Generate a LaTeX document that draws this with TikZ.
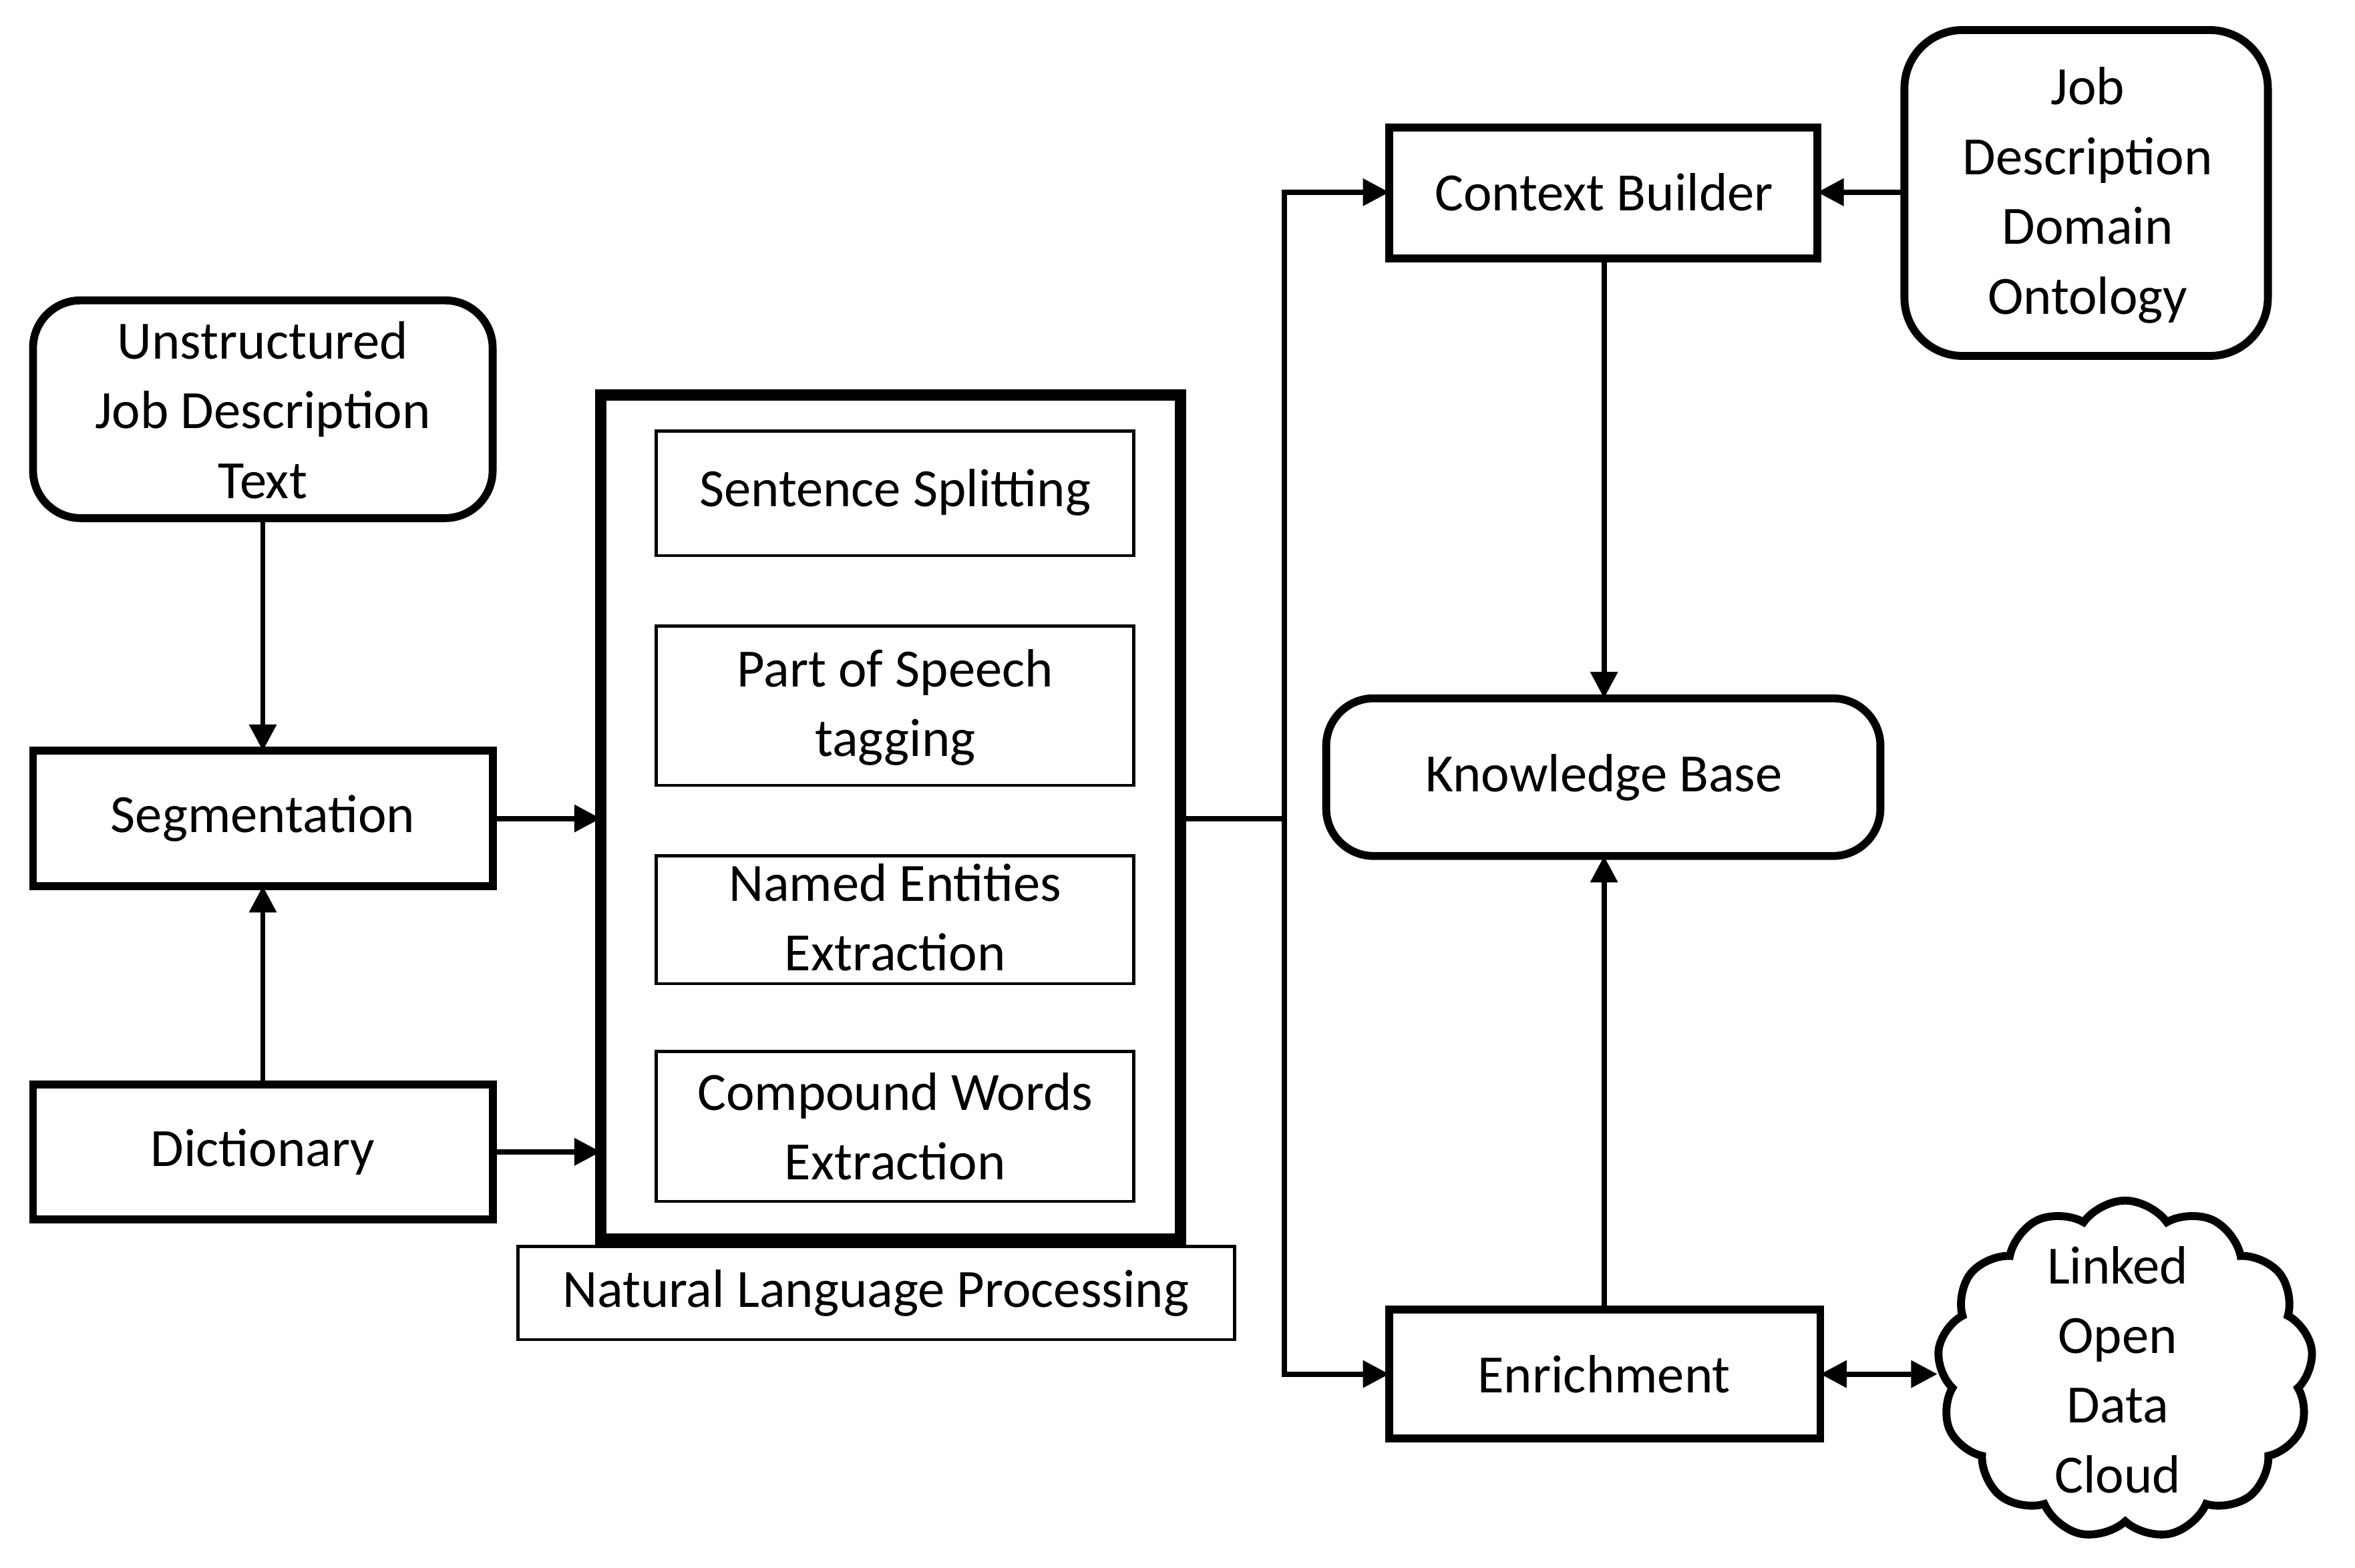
\documentclass[tikz,border=0pt]{standalone}
\usepackage{fontspec}
\setmainfont{Carlito}
\usetikzlibrary{shapes.symbols,arrows.meta}
\begin{document}
\begin{tikzpicture}[x=0.01cm,y=-0.01cm,
  txt/.style={font=\fontsize{10.2}{13.2}\selectfont,align=center,inner sep=0pt},
  thk/.style={draw,line width=1.5pt},
  thn/.style={draw,line width=0.6pt},
  arr/.style={line width=1pt,-{Triangle[length=5pt,width=5pt]}},
  darr/.style={line width=1pt,{Triangle[length=5pt,width=5pt]}-{Triangle[length=5pt,width=5pt]}}]
\useasboundingbox (0,0) rectangle (1568,1044);
\draw[thk,rounded corners=9pt] (22,200) rectangle (328,345);
\node[txt] (u) at (175,273) {Unstructured\\Job Description\\Text};
\draw[thk] (22,500) rectangle (328,590);
\node[txt] (s) at (175,545) {Segmentation};
\draw[thk] (22,722) rectangle (328,812);
\node[txt] (d) at (175,767) {Dictionary};
\draw[line width=2.2pt] (400,263) rectangle (786,825);
\draw[thn] (437,287) rectangle (755,370);
\node[txt] at (596,328) {Sentence Splitting};
\draw[thn] (437,417) rectangle (755,523);
\node[txt] at (596,471) {Part of Speech\\tagging};
\draw[thn] (437,570) rectangle (755,655);
\node[txt] at (596,611) {Named Entities\\Extraction};
\draw[thn] (437,700) rectangle (755,800);
\node[txt] at (596,750) {Compound Words\\Extraction};
\draw[thn] (345,830) rectangle (822,892);
\node[txt] at (583,861) {Natural Language Processing};
\draw[thk] (925,85) rectangle (1210,172);
\node[txt] (cb) at (1068,128) {Context Builder};
\draw[thk,rounded corners=11pt] (1268,20) rectangle (1510,237);
\node[txt] (o) at (1390,130) {Job\\Description\\Domain\\Ontology};
\draw[thk,rounded corners=9pt] (883,465) rectangle (1252,570);
\node[txt] (kb) at (1068,518) {Knowledge Base};
\draw[thk] (925,872) rectangle (1212,958);
\node[txt] (e) at (1068,915) {Enrichment};
\node[cloud,draw,line width=1.5pt,cloud puffs=13,cloud puff arc=110,aspect=1.15,minimum width=2.5cm,minimum height=2.25cm] (c) at (1415,912) {};
\node[txt] at (1410,912) {Linked\\Open\\Data\\Cloud};
% arrows
\draw[arr] (175,345) -- (175,500);
\draw[arr] (175,722) -- (175,590);
\draw[arr] (328,545) -- (400,545);
\draw[arr] (328,767) -- (400,767);
\draw[line width=1pt] (786,545) -- (855,545);
\draw[arr] (855,545) -- (855,128) -- (925,128);
\draw[arr] (855,545) -- (855,915) -- (925,915);
\draw[arr] (1268,128) -- (1210,128);
\draw[arr] (1068,172) -- (1068,465);
\draw[arr] (1068,872) -- (1068,570);
\draw[darr] (1212,915) -- (1290,915);
\end{tikzpicture}
\end{document}
